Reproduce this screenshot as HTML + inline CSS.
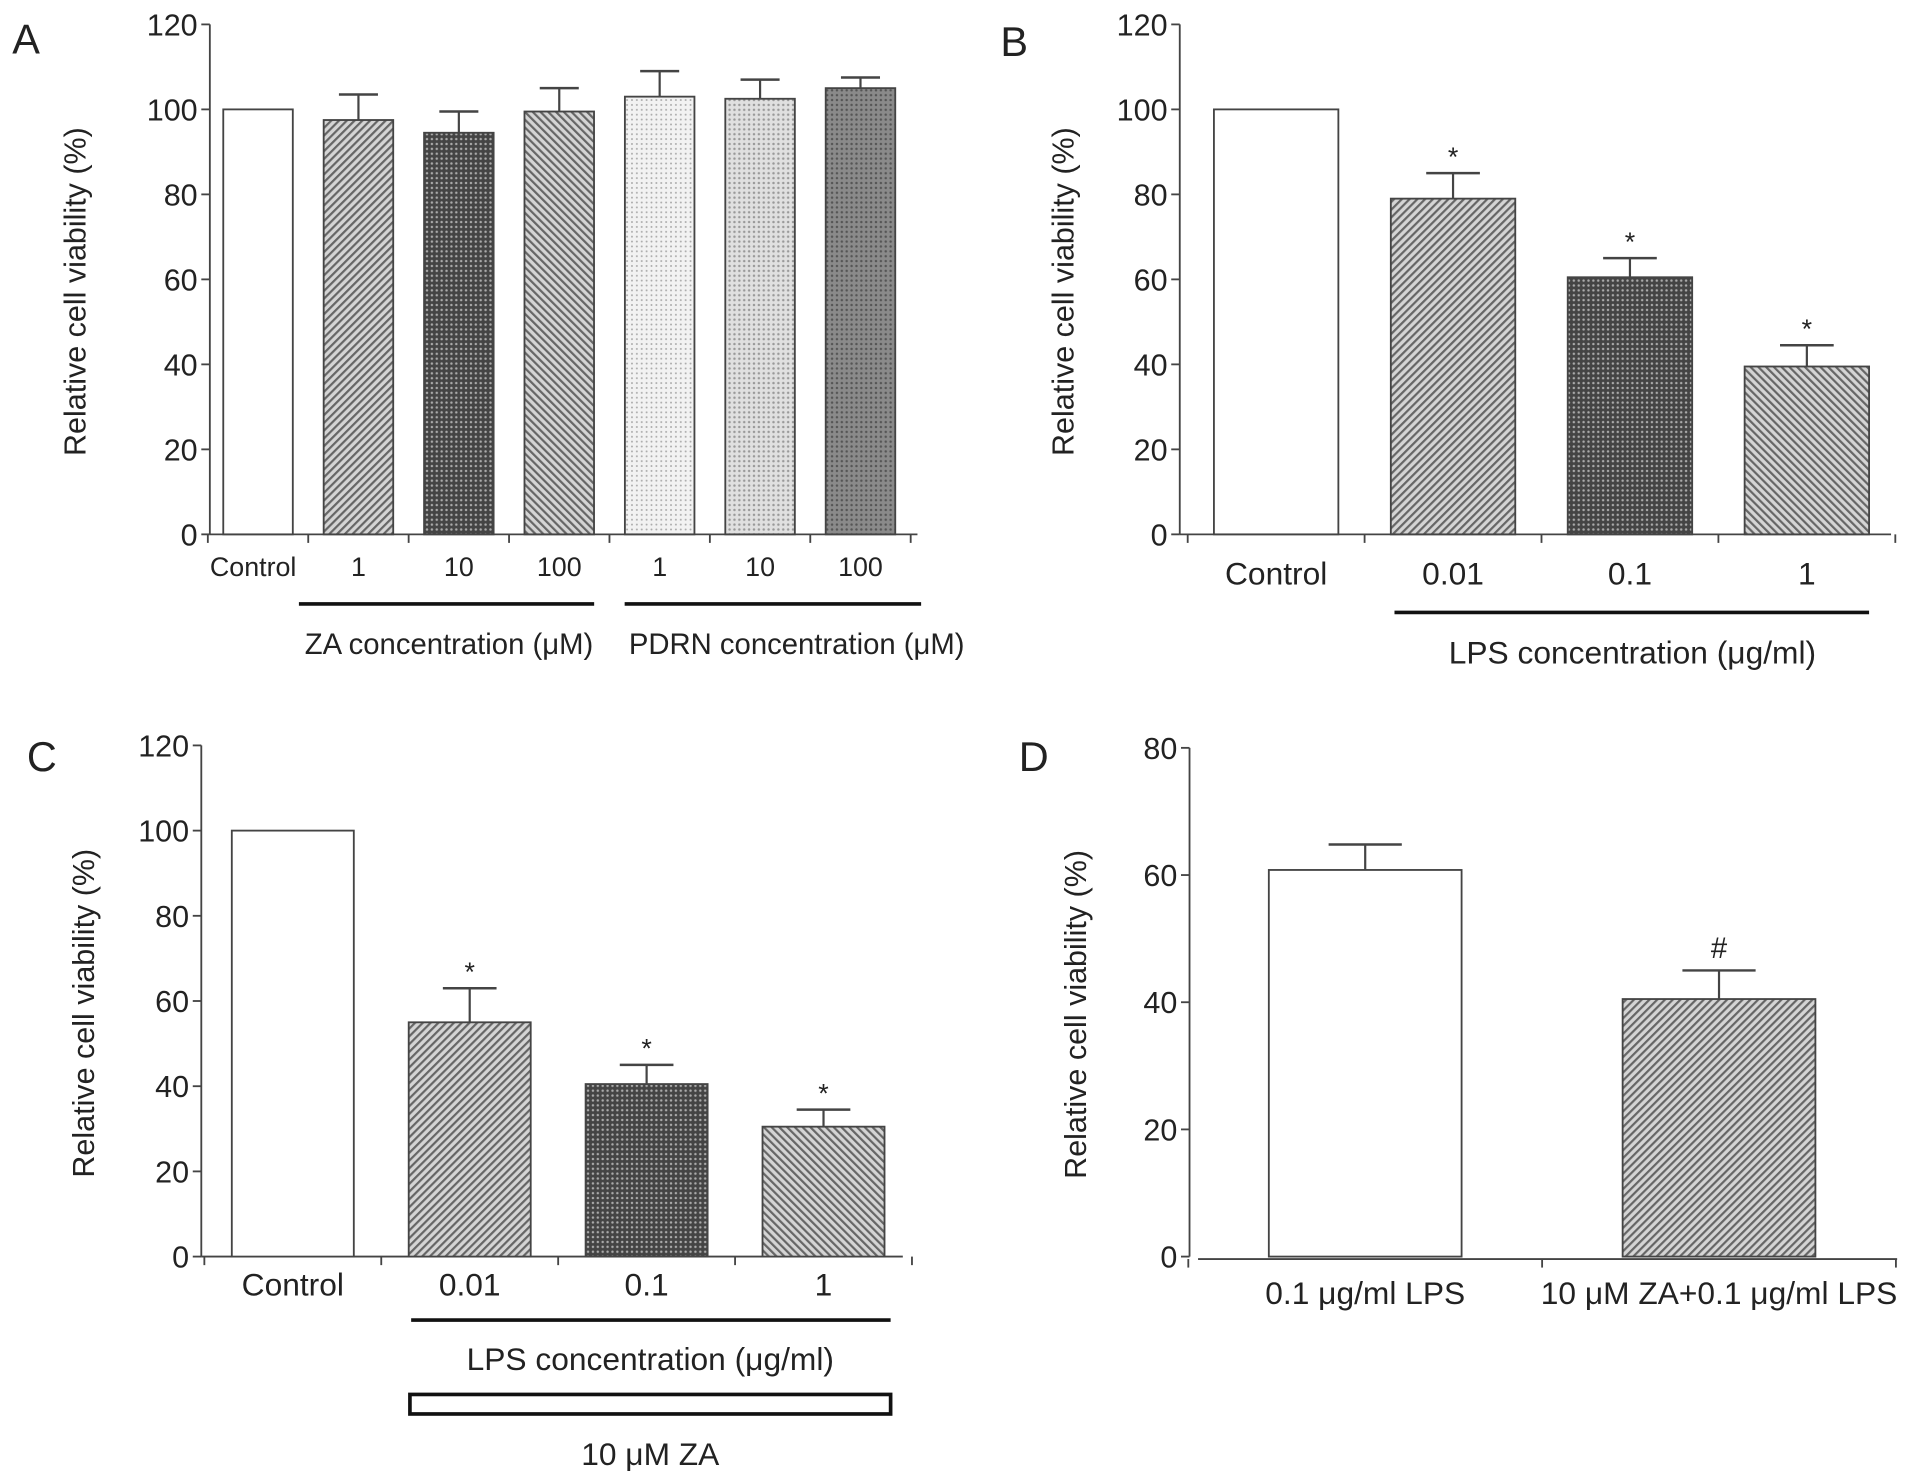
<!DOCTYPE html>
<html><head><meta charset="utf-8"><style>
html,body{margin:0;padding:0;background:#fff;}
svg{display:block;font-family:"Liberation Sans",Arial,sans-serif;}
</style></head><body>
<svg id="fig" width="1913" height="1484" viewBox="0 0 1568 1216.4" preserveAspectRatio="none" xmlns="http://www.w3.org/2000/svg">
<defs>
<pattern id="hatchR" patternUnits="userSpaceOnUse" width="4.5" height="4.5" patternTransform="rotate(45)"><rect width="4.5" height="4.5" fill="#d4d4d4"/><rect width="1.8" height="4.5" fill="#666"/></pattern>
<pattern id="hatchL" patternUnits="userSpaceOnUse" width="4.5" height="4.5" patternTransform="rotate(-45)"><rect width="4.5" height="4.5" fill="#d4d4d4"/><rect width="1.8" height="4.5" fill="#666"/></pattern>
<pattern id="cross" patternUnits="userSpaceOnUse" width="4" height="4"><rect width="4" height="4" fill="#444"/><circle cx="2" cy="2" r="1" fill="#aaa"/></pattern>
<pattern id="dotLight" patternUnits="userSpaceOnUse" width="4" height="4"><rect width="4" height="4" fill="#f2f2f2"/><circle cx="2" cy="2" r="0.8" fill="#aaa"/></pattern>
<pattern id="dotMid" patternUnits="userSpaceOnUse" width="4" height="4"><rect width="4" height="4" fill="#e0e0e0"/><circle cx="2" cy="2" r="1" fill="#999"/></pattern>
<pattern id="dotDark" patternUnits="userSpaceOnUse" width="4" height="4"><rect width="4" height="4" fill="#8a8a8a"/><circle cx="2" cy="2" r="1" fill="#555"/></pattern>
</defs>
<g id="root"></g>
</svg>
<script>
// Panel A data
const catsA = ["Control","1","10","100","1","10","100"];
const valsA = [100, 97.5, 94.5, 99.5, 103, 102.5, 105];
const errsA = [0, 6, 5, 5.5, 6, 4.5, 2.5];
const ticksA = [0,20,40,60,80,100,120];
// Panel B data
const catsB = ["Control","0.01","0.1","1"];
const valsB = [100, 79, 60.5, 39.5];
const errsB = [0, 6, 4.5, 5];
const marksB = ["","*","*","*"];
const ticksB = [0,20,40,60,80,100,120];
// Panel C data
const catsC = ["Control","0.01","0.1","1"];
const valsC = [100, 55, 40.5, 30.5];
const errsC = [0, 8, 4.5, 4];
const marksC = ["","*","*","*"];
const ticksC = [0,20,40,60,80,100,120];
// Panel D data
const catsD = ["0.1 \u03bcg/ml LPS","10 \u03bcM ZA+0.1 \u03bcg/ml LPS"];
const valsD = [60.8, 40.5];
const errsD = [4, 4.5];
const marksD = ["","#"];
const ticksD = [0,20,40,60,80];

const NS="http://www.w3.org/2000/svg";
const root=document.getElementById('root');
function mk(tag,attrs,parent){const e=document.createElementNS(NS,tag);for(const k in attrs)e.setAttribute(k,attrs[k]);(parent||root).appendChild(e);return e;}
function txt(s,x,y,size,anchor,parent){const t=mk('text',{x:x,y:y,'font-size':size,'text-anchor':anchor||'middle',fill:'#222'},parent);t.textContent=s;return t;}

function panel(id,cfg,cats,vals,errs,marks,ticks){
  const g=mk('g',{});
  
  
  const ymax=ticks[ticks.length-1];
  const yS=v=>cfg.y0-(v/ymax)*(cfg.y0-cfg.yTop);
  const xS=i=>cfg.xStart+i*cfg.step;
  const ax=mk('g',{},g);
  
  
  mk('line',{x1:cfg.ax,y1:cfg.y0,x2:cfg.ax,y2:cfg.yTop,stroke:'#444','stroke-width':1.5},ax);
  ticks.forEach(t=>{mk('line',{x1:cfg.ax-7,y1:yS(t),x2:cfg.ax,y2:yS(t),stroke:'#444','stroke-width':1.5},ax);
    const l=txt(String(t),cfg.ax-10,yS(t)+9,25,'end',ax);
    
    });
  const xa=mk('g',{},g);
  
  
  const xaY=cfg.y0+(cfg.xOff||0);
  mk('line',{x1:cfg.xaStart,y1:xaY,x2:cfg.xaEnd,y2:xaY,stroke:'#444','stroke-width':1.5},xa);
  for(let i=0;i<=cats.length;i++){const tx=xS(i)-(cfg.step-cfg.bw)/2;
    mk('line',{x1:tx,y1:xaY,x2:tx,y2:xaY+7,stroke:'#444','stroke-width':1.5},xa);}
  cats.forEach((c,i)=>{
    const bx=xS(i), v=vals[i];
    const r=mk('rect',{x:bx,y:yS(v),width:cfg.bw,height:cfg.y0-yS(v),fill:cfg.fills[i],stroke:'#444','stroke-width':1.5},g);
    
    
    const cx=bx+cfg.bw/2;
    if(errs[i]>0){const ey=yS(v+errs[i]);
      const eb=mk('g',{},g);
      
      
      mk('line',{x1:cx,y1:yS(v),x2:cx,y2:ey,stroke:'#444','stroke-width':1.8},eb);
      mk('line',{x1:cx-cfg.cap,y1:ey,x2:cx+cfg.cap,y2:ey,stroke:'#444','stroke-width':2},eb);
      if(marks&&marks[i]){const m=txt(marks[i],cx,ey-(marks[i]=='#'?10:6),marks[i]=='#'?24:22,'middle',g);
        
        }
    }
    const l=txt(c,cx+(cfg.lblDx?cfg.lblDx[i]:0),cfg.lblY,cfg.lblSize,'middle',g);
    
    
  });
  const yt=txt('Relative cell viability (%)',0,0,25,'middle',g);
  yt.setAttribute('transform','translate('+cfg.ytX+','+((cfg.y0+cfg.yTop)/2+10)+') rotate(-90)');
  
  
  const L=txt(id,cfg.lx,cfg.ly,34,'start',g);
  
  
  return g;
}

panel('A',{ax:172,y0:438,yTop:20,xStart:183,step:82.3,bw:57,cap:16,xaStart:172,xaEnd:752,lblY:472,lblSize:22,ytX:70,lx:10,ly:44,
  fills:['#fff','url(#hatchR)','url(#cross)','url(#hatchL)','url(#dotLight)','url(#dotMid)','url(#dotDark)'],lblDx:[-4,0,0,0,0,0,0]},catsA,valsA,errsA,null,ticksA);
panel('B',{ax:967,y0:438,yTop:20,xStart:995,step:145,bw:102,cap:22,xaStart:967,xaEnd:1550,xOff:0,lblY:479,lblSize:26,ytX:880,lx:820,ly:46,
  fills:['#fff','url(#hatchR)','url(#cross)','url(#hatchL)']},catsB,valsB,errsB,marksB,ticksB);
panel('C',{ax:165,y0:1030,yTop:611,xStart:190,step:145,bw:100,cap:22,xaStart:165,xaEnd:740,lblY:1062,lblSize:26,ytX:77,lx:22,ly:632,
  fills:['#fff','url(#hatchR)','url(#cross)','url(#hatchL)']},catsC,valsC,errsC,marksC,ticksC);
panel('D',{ax:975,y0:1030,yTop:613,xStart:1040,step:290,bw:158,cap:30,xaStart:982,xaEnd:1555,xOff:2,lblY:1069,lblSize:26,ytX:890,lx:835,ly:632,
  fills:['#fff','url(#hatchR)']},catsD,valsD,errsD,marksD,ticksD);

// group annotations
function gl(name,x1,x2,y){const l=mk('line',{x1:x1,y1:y,x2:x2,y2:y,stroke:'#111','stroke-width':3});
  
  }
function gt(name,s,x,y,size){const t=txt(s,x,y,size,'middle');
  
  }
gl('za-group-line',245,487,495); gt('za-group-label','ZA concentration (\u03bcM)',368,536,24);
gl('pdrn-group-line',512,755,495); gt('pdrn-group-label','PDRN concentration (\u03bcM)',653,536,24);
gl('lps-group-line-b',1143,1532,502); gt('lps-group-label-b','LPS concentration (\u03bcg/ml)',1338,544,26);
gl('lps-group-line-c',337,730,1082); gt('lps-group-label-c','LPS concentration (\u03bcg/ml)',533,1123,26);
const box=mk('rect',{x:336,y:1143,width:394,height:16,fill:'#fff',stroke:'#111','stroke-width':3});


gt('za-treatment-label','10 \u03bcM ZA',533,1201,26);
</script>
</body></html>
